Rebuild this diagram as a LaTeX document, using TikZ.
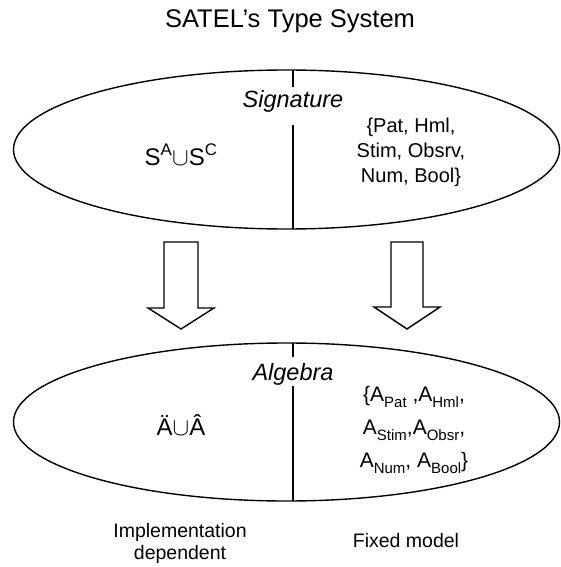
\documentclass[tikz,border=0pt]{standalone}
\usepackage{fontspec}
\setmainfont{Liberation Sans}
\usepackage{tikz}
\tikzset{>=latex}
\tikzset{
  outline/.style={line width=1.4pt},
  heading/.style={font=\fontsize{25.5}{30}\selectfont},
  part/.style={font=\fontsize{23.5}{28}\itshape},
  sortset/.style={font=\fontsize{24}{29}\selectfont},
  sortlist/.style={font=\fontsize{20}{25}\selectfont, align=center},
  caption/.style={font=\fontsize{19.5}{22}\selectfont, align=center}
}
\newcommand{\lowsub}[1]{\raisebox{-0.3em}{\fontsize{15}{15}\selectfont #1}}

\begin{document}
\begin{tikzpicture}[x=1pt, y=-1pt]
                \useasboundingbox (0, 0) rectangle (561, 567);
                \node[heading, anchor=base] (title) at (290, 28) {SATEL's Type System};
                % signature
                \draw[outline] (286.5, 149.5) ellipse [x radius=273, y radius=79.5];
                \node[part, anchor=base] (sig) at (293, 107) {Signature};
                \draw[outline] (293, 70) -- (293, 87);
                \draw[outline] (293, 125) -- (293, 229);
                \node[sortset, anchor=base] (sigabs) at (181, 165) {S\textsuperscript{A}\ensuremath{\cup}S\textsuperscript{C}};
                \node[sortlist] (sigfix) at (411, 152) {\{Pat, Hml,\\ Stim, Obsrv,\\ Num, Bool\}};
                % arrows
                \draw[outline] (164, 242) -- (198, 242) -- (198, 308) -- (214, 308) -- (181, 329)
                    -- (148, 308) -- (164, 308) -- cycle;
                \draw[outline] (391, 242) -- (423, 242) -- (423, 307) -- (440, 307) -- (407, 329)
                    -- (374, 307) -- (391, 307) -- cycle;
                % algebra
                \draw[outline] (286.5, 422) ellipse [x radius=273, y radius=79];
                \node[part, anchor=base] (alg) at (293, 380) {Algebra};
                \draw[outline] (293, 343) -- (293, 357);
                \draw[outline] (293, 386) -- (293, 501);
                \node[sortset, anchor=base] (algabs) at (181, 435) {\"A\ensuremath{\cup}\^A};
                \node[sortlist, font=\fontsize{21}{33}\selectfont] (algfix) at (414, 430)
                    {\{A\lowsub{Pat} ,A\lowsub{Hml},\\
                     A\lowsub{Stim},A\lowsub{Obsr},\\
                     A\lowsub{Num}, A\lowsub{Bool}\}};
                \node[caption] (impl) at (180, 543) {Implementation\\ dependent};
                \node[caption, anchor=base] (fixed) at (406, 547) {Fixed model};
            \end{tikzpicture}
\end{document}
